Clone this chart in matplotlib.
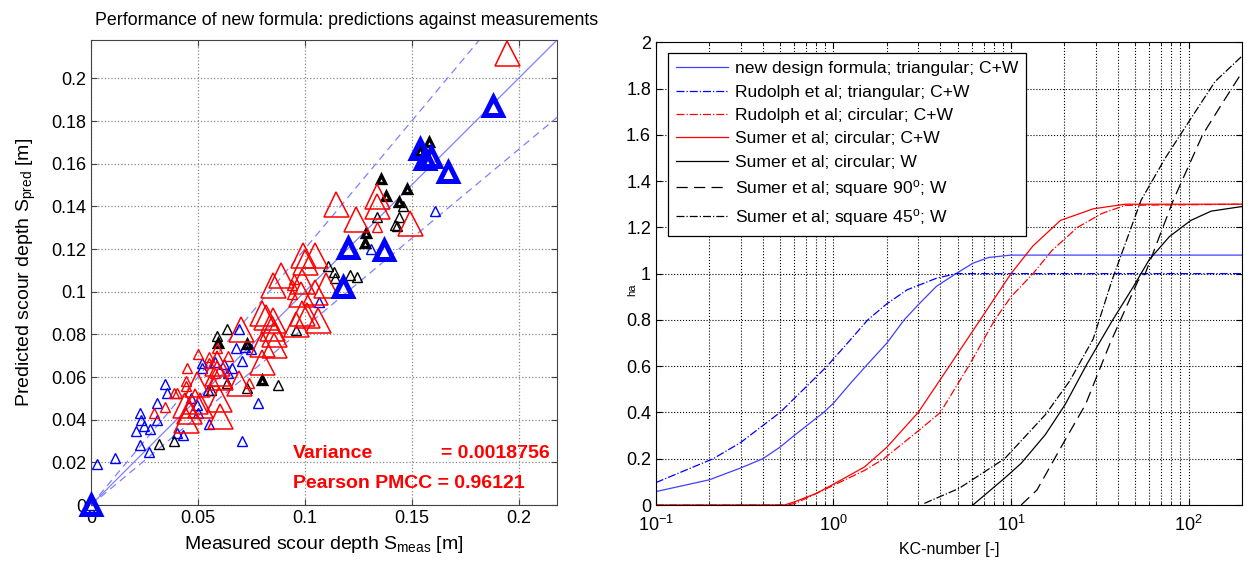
import numpy as np
import matplotlib
matplotlib.use("Agg")
import matplotlib.pyplot as plt
from matplotlib.ticker import FormatStrFormatter, LogLocator, NullFormatter

plt.rcParams['font.family'] = ['Liberation Sans', 'DejaVu Sans']
plt.rcParams['mathtext.default'] = 'regular'
plt.rcParams['xtick.direction'] = 'in'
plt.rcParams['ytick.direction'] = 'in'

# ---- left panel: measured vs predicted scour depth ----
blue_small_x = [0.003, 0.0112, 0.0229, 0.027, 0.021, 0.0276, 0.025, 0.0234, 0.0229, 0.031,
                0.031, 0.0355, 0.0346, 0.040, 0.043, 0.055, 0.0706, 0.0495, 0.05, 0.052,
                0.052, 0.0547, 0.064, 0.068, 0.0706, 0.069, 0.078, 0.1065, 0.131, 0.161,
                0.0, 0.062, 0.066, 0.072, 0.075, 0.058, 0.047]
blue_small_y = [0.019, 0.022, 0.028, 0.025, 0.0345, 0.0355, 0.037, 0.040, 0.043, 0.040,
                0.048, 0.0525, 0.0567, 0.0336, 0.033, 0.038, 0.0298, 0.047, 0.043, 0.0667,
                0.064, 0.054, 0.062, 0.0738, 0.0676, 0.0827, 0.0478, 0.095, 0.12, 0.138,
                0.0, 0.066, 0.064, 0.074, 0.073, 0.067, 0.050]

red_small_x = [0.0294, 0.0346, 0.040, 0.0444, 0.0444, 0.039, 0.045, 0.05, 0.055, 0.055,
               0.059, 0.064, 0.074, 0.094, 0.094, 0.134, 0.095, 0.058, 0.057]
red_small_y = [0.043, 0.046, 0.0525, 0.058, 0.0558, 0.0525, 0.064, 0.071, 0.0695, 0.0667,
               0.0738, 0.070, 0.057, 0.103, 0.099, 0.1305, 0.106, 0.062, 0.058]

black_small_x = [0.0318, 0.0388, 0.0636, 0.059, 0.0874, 0.0636, 0.073, 0.096, 0.1136, 0.121,
                 0.1243, 0.114, 0.134, 0.142, 0.146, 0.144, 0.143, 0.111, 0.056]
black_small_y = [0.0288, 0.030, 0.0827, 0.0794, 0.0563, 0.057, 0.055, 0.082, 0.109, 0.108,
                 0.107, 0.1064, 0.1348, 0.1314, 0.140, 0.135, 0.131, 0.112, 0.054]

black_thick_x = [0.0594, 0.073, 0.080, 0.1285, 0.128, 0.158, 0.1355, 0.138, 0.148, 0.144, 0.154]
black_thick_y = [0.076, 0.0757, 0.0586, 0.1277, 0.123, 0.170, 0.153, 0.145, 0.148, 0.142, 0.166]

red_large_x = [0.1944, 0.134, 0.134, 0.1145, 0.124, 0.149, 0.105, 0.099, 0.100, 0.089,
               0.085, 0.0986, 0.098, 0.105, 0.110, 0.101, 0.106, 0.085, 0.096, 0.0701,
               0.0855, 0.0855, 0.080, 0.0846, 0.080, 0.059, 0.059, 0.069, 0.060, 0.0495,
               0.0486, 0.046, 0.0444, 0.044, 0.0603, 0.051, 0.0986, 0.0603, 0.080, 0.082]
red_large_y = [0.212, 0.145, 0.140, 0.141, 0.134, 0.1324, 0.117, 0.117, 0.114, 0.108,
               0.103, 0.105, 0.099, 0.100, 0.103, 0.089, 0.0865, 0.0865, 0.085, 0.0827,
               0.080, 0.075, 0.067, 0.083, 0.0757, 0.0667, 0.062, 0.057, 0.0496, 0.0567,
               0.0487, 0.044, 0.0397, 0.047, 0.060, 0.047, 0.090, 0.0416, 0.090, 0.088]

blue_large_x = [0.0, 0.188, 0.154, 0.159, 0.156, 0.167, 0.120, 0.137, 0.118]
blue_large_y = [0.0, 0.187, 0.167, 0.163, 0.162, 0.156, 0.1206, 0.1196, 0.102]

variance = 0.0018756
pmcc = 0.96121

# ---- right panel: KC-number curves ----
new_tri_kc = [0.1, 0.2, 0.3, 0.4, 0.5, 0.6, 0.88, 1.0, 1.26, 1.52, 2.0, 2.5, 3.0, 3.8,
              4.9, 6.1, 7.5, 10, 200]
new_tri_s = [0.058, 0.109, 0.16, 0.2, 0.25, 0.3, 0.4, 0.44, 0.53, 0.6, 0.7, 0.8,
             0.865, 0.945, 1.0, 1.045, 1.07, 1.08, 1.08]

rud_tri_kc = [0.1, 0.21, 0.3, 0.5, 0.7, 0.92, 1.2, 1.56, 2.0, 2.6, 3.8, 4.9, 200]
rud_tri_s = [0.097, 0.2, 0.27, 0.4, 0.51, 0.6, 0.7, 0.8, 0.87, 0.93, 0.98, 1.0, 1.0]

rud_circ_kc = [0.1, 0.55, 0.61, 1.0, 1.5, 1.92, 3.0, 4.0, 5.77, 8.1, 10, 13.3, 17, 23.7,
               32.5, 44, 200]
rud_circ_s = [0.0, 0.0, 0.007, 0.085, 0.15, 0.2, 0.32, 0.4, 0.6, 0.8, 0.9, 1.0, 1.1, 1.2,
              1.26, 1.295, 1.3]

sum_circ_cw_kc = [0.1, 0.53, 0.61, 0.8, 1.0, 1.5, 2.0, 3.0, 4.49, 6.7, 10, 13.3, 19, 29,
                  44, 200]
sum_circ_cw_s = [0.0, 0.0, 0.015, 0.05, 0.09, 0.165, 0.25, 0.4, 0.6, 0.8, 1.0, 1.12, 1.23,
                 1.28, 1.3, 1.3]

sum_circ_w_kc = [6.1, 9.2, 11.4, 15.6, 20.2, 26.8, 37.4, 49, 60, 78, 103, 134, 200]
sum_circ_w_s = [0.0, 0.116, 0.18, 0.304, 0.435, 0.61, 0.80, 0.945, 1.06, 1.16, 1.23, 1.27,
                1.29]

sum_sq90_kc = [11.4, 14, 19, 26.3, 36, 52, 57, 82, 120, 156, 200]
sum_sq90_s = [0.0, 0.065, 0.246, 0.435, 0.696, 0.97, 1.0, 1.317, 1.60, 1.74, 1.87]

sum_sq45_kc = [3.25, 5.1, 9.2, 15.6, 21.4, 29, 37, 54, 74, 103, 141, 200]
sum_sq45_s = [0.007, 0.072, 0.20, 0.39, 0.536, 0.717, 0.97, 1.317, 1.50, 1.67, 1.83, 1.94]

fig = plt.figure(figsize=(12.47, 5.63), dpi=100)
ax1 = fig.add_axes([0.073, 0.103, 0.3737, 0.826])
ax2 = fig.add_axes([0.526, 0.103, 0.470, 0.822])

# left panel
lim = 0.218
ref = np.array([0.0, lim])
line_col = '#8080ff'
ax1.plot(ref, ref, '-', color=line_col, lw=0.9)
ax1.plot(ref, ref * 1.2, '--', color=line_col, lw=0.9, dashes=(6, 4))
ax1.plot(ref, ref / 1.2, '--', color=line_col, lw=0.9, dashes=(6, 4))

ax1.plot(blue_small_x, blue_small_y, '^', mfc='none', mec='blue', ms=7, mew=1.0,
         clip_on=False)
ax1.plot(black_small_x, black_small_y, '^', mfc='none', mec='black', ms=7, mew=1.0)
ax1.plot(black_thick_x, black_thick_y, '^', mfc='none', mec='black', ms=6, mew=2.4)
ax1.plot(red_small_x, red_small_y, '^', mfc='none', mec='red', ms=7.5, mew=1.0)
ax1.plot(red_large_x, red_large_y, '^', mfc='none', mec='red', ms=18, mew=1.1)
ax1.plot(blue_large_x, blue_large_y, '^', mfc='none', mec='blue', ms=13, mew=3.6,
         clip_on=False, zorder=5)

ax1.text(0.0944, 0.022, 'Variance', color='red', fontweight='bold', fontsize=14)
ax1.text(0.2145, 0.022, '= %.7f' % variance, color='red', fontweight='bold', fontsize=14,
         ha='right')
ax1.text(0.0944, 0.0078, 'Pearson PMCC = %.5f' % pmcc, color='red', fontweight='bold',
         fontsize=14)

ax1.set_xlim(0, lim)
ax1.set_ylim(0, lim)
ax1.set_xticks(np.arange(0, 0.201, 0.05))
ax1.set_yticks(np.arange(0, 0.201, 0.02))
ax1.xaxis.set_major_formatter(FormatStrFormatter('%g'))
ax1.yaxis.set_major_formatter(FormatStrFormatter('%g'))
ax1.tick_params(labelsize=13, top=True, right=True, length=4, color='#444444')
ax1.grid(True, linestyle=':', color='#888888', lw=0.9)
ax1.set_title('Performance of new formula: predictions against measurements', fontsize=12.8,
              pad=11, x=0.548)
ax1.set_xlabel('Measured scour depth S$_{meas}$ [m]', fontsize=14, labelpad=5)
ax1.set_ylabel('Predicted scour depth S$_{pred}$ [m]', fontsize=14, labelpad=9)
for s in ax1.spines.values():
    s.set_color('#444444')

# right panel
ax2.plot(new_tri_kc, new_tri_s, '-', color='#4040ff', lw=0.9,
         label='new design formula; triangular; C+W')
ax2.plot(rud_tri_kc, rud_tri_s, '-.', color='blue', lw=0.9,
         label='Rudolph et al; triangular; C+W')
ax2.plot(rud_circ_kc, rud_circ_s, '-.', color='red', lw=0.9,
         label='Rudolph et al; circular; C+W')
ax2.plot(sum_circ_cw_kc, sum_circ_cw_s, '-', color='red', lw=0.9,
         label='Sumer et al; circular; C+W')
ax2.plot(sum_circ_w_kc, sum_circ_w_s, '-', color='black', lw=0.9,
         label='Sumer et al; circular; W')
ax2.plot(sum_sq90_kc, sum_sq90_s, '--', color='black', lw=0.9, dashes=(9, 5),
         label='Sumer et al; square 90$^{o}$; W')
ax2.plot(sum_sq45_kc, sum_sq45_s, '-.', color='black', lw=0.9,
         label='Sumer et al; square 45$^{o}$; W')

ax2.set_xscale('log')
ax2.set_xlim(0.1, 200)
ax2.set_ylim(0, 2)
ax2.set_yticks(np.arange(0, 2.01, 0.2))
ax2.yaxis.set_major_formatter(FormatStrFormatter('%g'))
ax2.xaxis.set_minor_locator(LogLocator(base=10, subs=np.arange(2, 10)))
ax2.xaxis.set_minor_formatter(NullFormatter())
ax2.tick_params(labelsize=13, top=True, right=True, length=4)
ax2.tick_params(axis='x', pad=7)
ax2.tick_params(which='minor', top=True, length=2.5)
ax2.grid(True, which='major', linestyle=':', color='black', lw=0.8)
ax2.grid(True, which='minor', axis='x', linestyle=':', color='black', lw=0.8)
ax2.set_xlabel('KC-number [-]', fontsize=11.5, labelpad=5)

leg = ax2.legend(loc='upper left', fontsize=12.6, frameon=True, fancybox=False,
                 edgecolor='black', framealpha=1, borderpad=0.45, labelspacing=0.46,
                 handlelength=3.0, handletextpad=0.4, borderaxespad=0,
                 bbox_to_anchor=(0.02, 0.976))
leg.get_frame().set_linewidth(0.9)

fig.text(0.507, 0.485, 'ha', rotation=90, fontsize=8, ha='center', va='center')

fig.savefig('out.png', dpi=100)
